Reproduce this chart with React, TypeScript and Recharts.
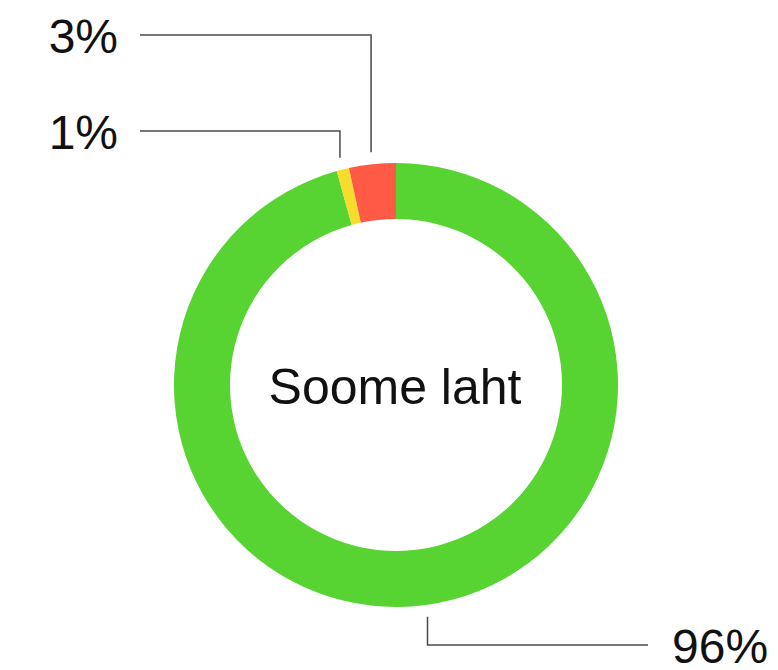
import React from 'react';
import { PieChart, Pie, Cell } from 'recharts';

const categories = ['Green', 'Yellow', 'Red'];
const values = [95.7, 0.9, 3.4];
const colors = ['#57d332', '#f6dc2b', '#fe5a46'];
const centerLabel = 'Soome laht';

const data = categories.map((name, i) => ({ name, value: values[i] }));

const FONT = '"Liberation Sans", Arial, Helvetica, sans-serif';
const RAD = Math.PI / 180;

// label layout: level of horizontal leader line, end x of that line, text anchor side
const labelLayout = [
  { lineY: 645, endX: 648, side: 'right' },
  { lineY: 131, endX: 140, side: 'left' },
  { lineY: 35, endX: 140, side: 'left' },
];

const renderLabel = (props: any) => {
  const { cx, cy, midAngle, outerRadius, percent, index } = props;
  const lay = labelLayout[index];
  const r = outerRadius + 12;
  const sx = cx + r * Math.cos(-midAngle * RAD);
  const sy = cy + r * Math.sin(-midAngle * RAD);
  const pts = `${sx},${sy} ${sx},${lay.lineY} ${lay.endX},${lay.lineY}`;
  const tx = lay.side === 'right' ? lay.endX + 24 : lay.endX - 22;
  return (
    <g key={`lbl-${index}`}>
      <polyline points={pts} fill="none" stroke="#4a4a4a" strokeWidth={1.5} />
      <text
        x={tx}
        y={lay.lineY + 18}
        textAnchor={lay.side === 'right' ? 'start' : 'end'}
        fontFamily={FONT}
        fontSize={48}
        fill="#111"
      >
        {`${Math.round(percent * 100)}%`}
      </text>
    </g>
  );
};

export default function App() {
  return (
    <div style={{ position: 'absolute', left: 0, top: 0, width: 778, height: 670, background: '#fff' }}>
      <PieChart width={778} height={670} margin={{ top: 0, right: 0, bottom: 0, left: 0 }}>
        <Pie
          data={data}
          dataKey="value"
          cx={396}
          cy={385}
          innerRadius={166}
          outerRadius={222}
          startAngle={90}
          endAngle={-270}
          stroke="none"
          label={renderLabel}
          labelLine={false}
          isAnimationActive={false}
        >
          {data.map((d, i) => (
            <Cell key={d.name} fill={colors[i]} />
          ))}
        </Pie>
        <text x={395} y={404} textAnchor="middle" fontFamily={FONT} fontSize={50} fill="#111">
          {centerLabel}
        </text>
      </PieChart>
    </div>
  );
}
